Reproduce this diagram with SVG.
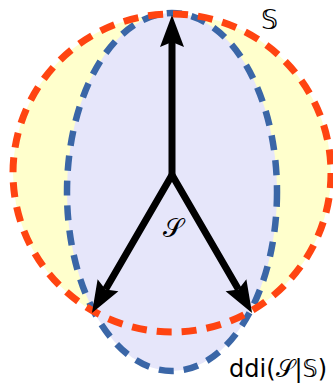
<svg xmlns="http://www.w3.org/2000/svg" width="333" height="384" viewBox="0 0 333 384">
<style>
.fillS{fill:#ffffcc;stroke:none}
.fillD{fill:#e6e6fa;stroke:none}
.edgeS{fill:none;stroke:#ff4411;stroke-width:7;stroke-dasharray:15 10}
.edgeD{fill:none;stroke:#3a66a7;stroke-width:6.5;stroke-dasharray:15 10}
.vec{fill:none;stroke:#000;stroke-width:7;stroke-linejoin:miter}
.lbl{font-family:"DejaVu Sans","Noto Sans",sans-serif;fill:#000}
</style>
<defs>
<marker id="ah" viewBox="0 -13 33 26" refX="5" refY="0" markerWidth="33" markerHeight="26" markerUnits="userSpaceOnUse" orient="auto-start-reverse">
<path d="M32,0 L0,-12 L5,0 L0,12 Z" fill="#000"/>
</marker>
</defs>
<g id="S-fill"><circle class="fillS" cx="172" cy="173" r="159"/></g>
<g id="ddi-fill"><ellipse class="fillD" cx="172" cy="192" rx="105" ry="179"/></g>
<g id="ddi-edge"><ellipse class="edgeD" cx="172" cy="192" rx="105" ry="179"/></g>
<g id="S-edge"><circle class="edgeS" cx="172" cy="173" r="159"/></g>
<g id="connectors">
<path class="vec" d="M172,177 L172,42" marker-end="url(#ah)"/>
<path class="vec" d="M105.5,289.6 L172,175 L238.5,289.6" marker-start="url(#ah)" marker-end="url(#ah)"/>
</g>
<g id="label-calS"><text class="lbl" x="173" y="237" font-size="26" text-anchor="middle">𝒮</text></g>
<g id="label-bbS"><text class="lbl" x="261" y="29" font-size="27">𝕊</text></g>
<g id="label-ddi"><text class="lbl" x="229" y="377" font-size="24">ddi(𝒮|𝕊)</text></g>
</svg>
